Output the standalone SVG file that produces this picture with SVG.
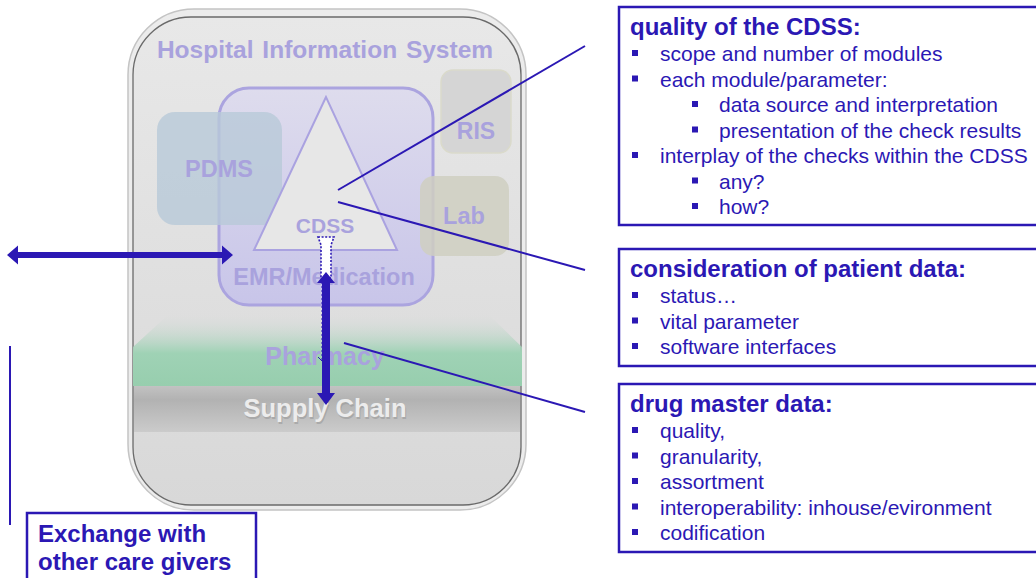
<svg xmlns="http://www.w3.org/2000/svg" width="1036" height="578" viewBox="0 0 1036 578">
<defs>
<style>
.lav{font-family:"Liberation Sans",Arial,sans-serif;font-weight:bold;fill:#a9a2dd;text-anchor:middle}
.box{fill:#ffffff;stroke:#2b18b4;stroke-width:2.5}
.ttl{font-family:"Liberation Sans",Arial,sans-serif;font-weight:bold;font-size:24px;fill:#2b18b4}
.txt{font-family:"Liberation Sans",Arial,sans-serif;font-size:21px;fill:#2b18b4}
.bul{fill:#2b18b4}
.lead{stroke:#2b18b4;stroke-width:2;fill:none}
</style>
<linearGradient id="gHis" x1="0" y1="0" x2="0" y2="1">
<stop offset="0" stop-color="#e8e8e8"/>
<stop offset="1" stop-color="#d8d8d8"/>
</linearGradient>
<linearGradient id="gEmr" x1="0" y1="0" x2="0" y2="1">
<stop offset="0" stop-color="#dedced"/>
<stop offset="1" stop-color="#c8c5e9"/>
</linearGradient>
<linearGradient id="gPh" x1="0" y1="0" x2="0" y2="1">
<stop offset="0" stop-color="#dcdcdc" stop-opacity="0"/>
<stop offset="0.55" stop-color="#9fd2b5"/>
<stop offset="1" stop-color="#97ceae"/>
</linearGradient>
<linearGradient id="gSc" x1="0" y1="0" x2="0" y2="1">
<stop offset="0" stop-color="#c2c2c2"/>
<stop offset="0.3" stop-color="#b2b2b2"/>
<stop offset="1" stop-color="#cbcbcb"/>
</linearGradient>
</defs>

<g id="his">
<rect x="128" y="9" width="398" height="501" rx="66" fill="#ececec" stroke="#c4c4c4" stroke-width="1.5"/>
<rect x="133" y="17" width="388" height="488" rx="58" fill="url(#gHis)" stroke="#6a6a6a" stroke-width="1.3"/>
<text class="lav" x="325" y="58" font-size="24.5" word-spacing="2">Hospital Information System</text>
</g>

<g id="pharmacy">
<path d="M170,313 L487,313 L522,347 L522,386 L133,386 L133,347 Z" fill="url(#gPh)"/>
<text class="lav" x="325" y="365" font-size="25" fill="#b0a7df">Pharmacy</text>
</g>

<g id="supply-chain">
<rect x="134" y="386" width="386" height="46" fill="url(#gSc)"/>
<text x="326" y="419" font-family="Liberation Sans,Arial,sans-serif" font-weight="bold" font-size="25.5" fill="#9a9a9a" text-anchor="middle" opacity="0.6">Supply Chain</text>
<text x="325" y="417" font-family="Liberation Sans,Arial,sans-serif" font-weight="bold" font-size="25.5" fill="#ececec" text-anchor="middle">Supply Chain</text>
</g>

<g id="emr">
<rect x="219" y="88" width="214" height="217" rx="30" fill="url(#gEmr)" stroke="#aba4df" stroke-width="3"/>
<text class="lav" x="324" y="285" font-size="23.5">EMR/Medication</text>
</g>

<g id="ris">
<rect x="441" y="70" width="70" height="83" rx="12" fill="#d5d5d5" stroke="#dadacb" stroke-width="1.5"/>
<text class="lav" x="476" y="139" font-size="23">RIS</text>
</g>

<g id="lab">
<rect x="420" y="176" width="89" height="80" rx="14" fill="#cfcfc1" fill-opacity="0.85"/>
<text class="lav" x="464" y="224" font-size="23.5">Lab</text>
</g>

<g id="pdms">
<rect x="157" y="112" width="125" height="113" rx="18" fill="#b8c9d8" fill-opacity="0.8"/>
<text class="lav" x="219" y="177" font-size="23.5">PDMS</text>
</g>

<g id="cdss">
<polygon points="326,97 254,250 397,250" fill="#e7e7e7" stroke="#aaa2e0" stroke-width="2"/>
<text class="lav" x="325" y="233" font-size="21">CDSS</text>
</g>

<g id="connectors">
<line class="lead" x1="338" y1="190" x2="585" y2="46"/>
<line class="lead" x1="338" y1="202" x2="585" y2="270"/>
<line class="lead" x1="344" y1="343" x2="585" y2="412"/>
<line class="lead" x1="10" y1="346" x2="10" y2="525"/>
<!-- horizontal double arrow -->
<polygon points="7,255 18,245.5 18,252 222,252 222,245.5 233,255 222,264.5 222,258 18,258 18,264.5" fill="#2b18b4"/>
<!-- dotted outline arrow -->
<polygon points="318,237 334,237 331,245 331,278 321,278 321,245" fill="#ffffff" stroke="#2b18b4" stroke-width="1.6" stroke-dasharray="2,1.6"/>
<line x1="322" y1="278" x2="322" y2="360" stroke="#2b18b4" stroke-width="1" stroke-dasharray="2,2"/>
<polyline points="318,357 322,361 326,357" fill="none" stroke="#2b18b4" stroke-width="1"/>
<!-- vertical double arrow -->
<polygon points="326,272 335,283 330,283 330,393 335,393 326,405 317,393 322,393 322,283 317,283" fill="#2b18b4"/>
</g>

<g id="exchange">
<rect class="box" x="27" y="513" width="229" height="70"/>
<text class="ttl" x="38" y="542">Exchange with</text>
<text class="ttl" x="38" y="570">other care givers</text>
</g>

<g id="quality-box">
<rect class="box" x="619" y="7" width="425" height="218"/>
<text class="ttl" x="630" y="35">quality of the CDSS:</text>
<rect class="bul" x="632" y="50" width="6" height="6"/>
<text class="txt" x="660" y="61">scope and number of modules</text>
<rect class="bul" x="632" y="75.5" width="6" height="6"/>
<text class="txt" x="660" y="86.5">each module/parameter:</text>
<rect class="bul" x="692" y="101" width="6" height="6"/>
<text class="txt" x="719" y="112">data source and interpretation</text>
<rect class="bul" x="692" y="126.5" width="6" height="6"/>
<text class="txt" x="719" y="137.5">presentation of the check results</text>
<rect class="bul" x="632" y="152" width="6" height="6"/>
<text class="txt" x="660" y="163">interplay of the checks within the CDSS</text>
<rect class="bul" x="692" y="177.5" width="6" height="6"/>
<text class="txt" x="719" y="188.5">any?</text>
<rect class="bul" x="692" y="203" width="6" height="6"/>
<text class="txt" x="719" y="214">how?</text>
</g>

<g id="patient-box">
<rect class="box" x="619" y="249" width="425" height="117"/>
<text class="ttl" x="630" y="277">consideration of patient data:</text>
<rect class="bul" x="632" y="292" width="6" height="6"/>
<text class="txt" x="660" y="303">status…</text>
<rect class="bul" x="632" y="317.5" width="6" height="6"/>
<text class="txt" x="660" y="328.5">vital parameter</text>
<rect class="bul" x="632" y="343" width="6" height="6"/>
<text class="txt" x="660" y="354">software interfaces</text>
</g>

<g id="drug-box">
<rect class="box" x="619" y="384" width="425" height="168"/>
<text class="ttl" x="630" y="412">drug master data:</text>
<rect class="bul" x="632" y="427" width="6" height="6"/>
<text class="txt" x="660" y="438">quality,</text>
<rect class="bul" x="632" y="452.5" width="6" height="6"/>
<text class="txt" x="660" y="463.5">granularity,</text>
<rect class="bul" x="632" y="478" width="6" height="6"/>
<text class="txt" x="660" y="489">assortment</text>
<rect class="bul" x="632" y="503.5" width="6" height="6"/>
<text class="txt" x="660" y="514.5">interoperability: inhouse/evironment</text>
<rect class="bul" x="632" y="529" width="6" height="6"/>
<text class="txt" x="660" y="540">codification</text>
</g>
</svg>
